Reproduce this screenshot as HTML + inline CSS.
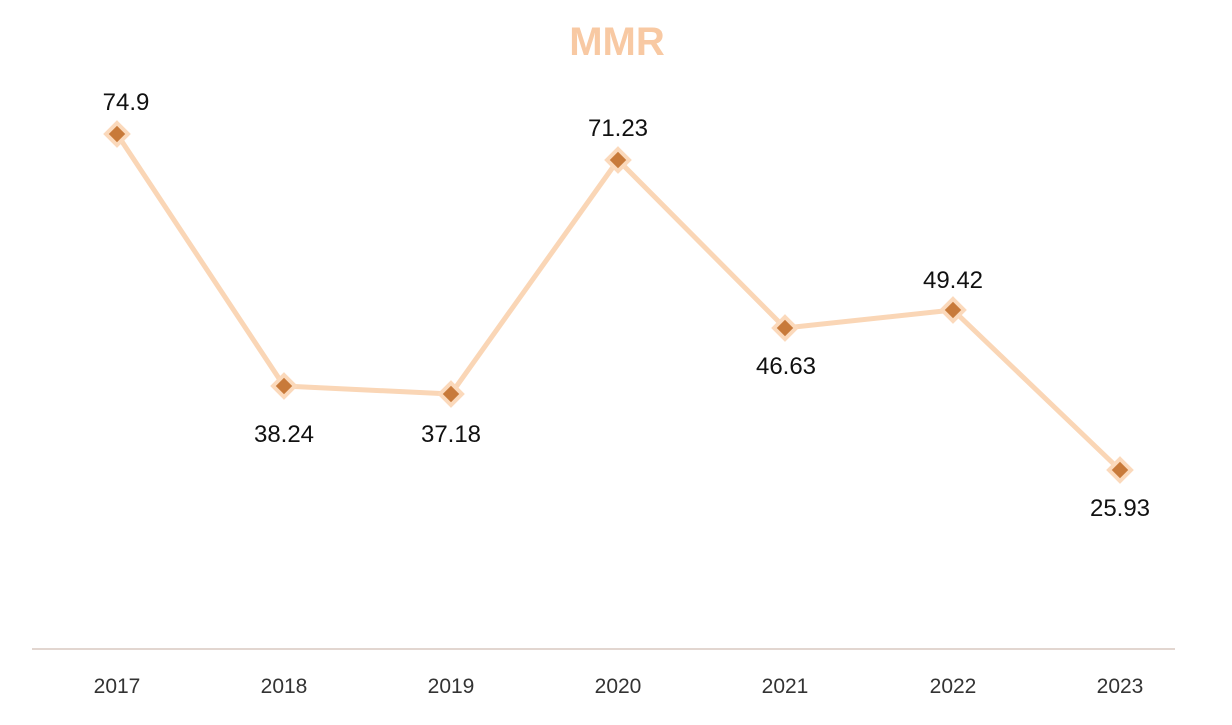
<!DOCTYPE html>
<html><head><style>
body{margin:0;background:#fff;width:1232px;height:720px;overflow:hidden}
svg text{font-family:"Liberation Sans",sans-serif}
</style></head><body>
<svg width="1232" height="720" xmlns="http://www.w3.org/2000/svg">
<text x="617" y="55" text-anchor="middle" font-size="40" font-weight="bold" fill="#f8c9a3">MMR</text>
<line x1="32" y1="649" x2="1175" y2="649" stroke="#d9c9c0" stroke-width="1.5"/>
<polyline points="117,134 284,386 451,394 618,160 785,328 953,310 1120,470" fill="none" stroke="#fad6b6" stroke-width="5" stroke-linejoin="round"/>
<g fill="#c87a3a" stroke="#fbd9bb" stroke-width="4">
<path d="M117,123 l11,11 l-11,11 l-11,-11z"/>
<path d="M284,375 l11,11 l-11,11 l-11,-11z"/>
<path d="M451,383 l11,11 l-11,11 l-11,-11z"/>
<path d="M618,149 l11,11 l-11,11 l-11,-11z"/>
<path d="M785,317 l11,11 l-11,11 l-11,-11z"/>
<path d="M953,299 l11,11 l-11,11 l-11,-11z"/>
<path d="M1120,459 l11,11 l-11,11 l-11,-11z"/>
</g>
<g font-size="24" fill="#111" text-anchor="middle">
<text x="126" y="110">74.9</text>
<text x="284" y="442">38.24</text>
<text x="451" y="442">37.18</text>
<text x="618" y="136">71.23</text>
<text x="786" y="374">46.63</text>
<text x="953" y="288">49.42</text>
<text x="1120" y="516">25.93</text>
</g>
<g font-size="21" fill="#333" text-anchor="middle">
<text x="117" y="693">2017</text>
<text x="284" y="693">2018</text>
<text x="451" y="693">2019</text>
<text x="618" y="693">2020</text>
<text x="785" y="693">2021</text>
<text x="953" y="693">2022</text>
<text x="1120" y="693">2023</text>
</g>
</svg>
</body></html>
